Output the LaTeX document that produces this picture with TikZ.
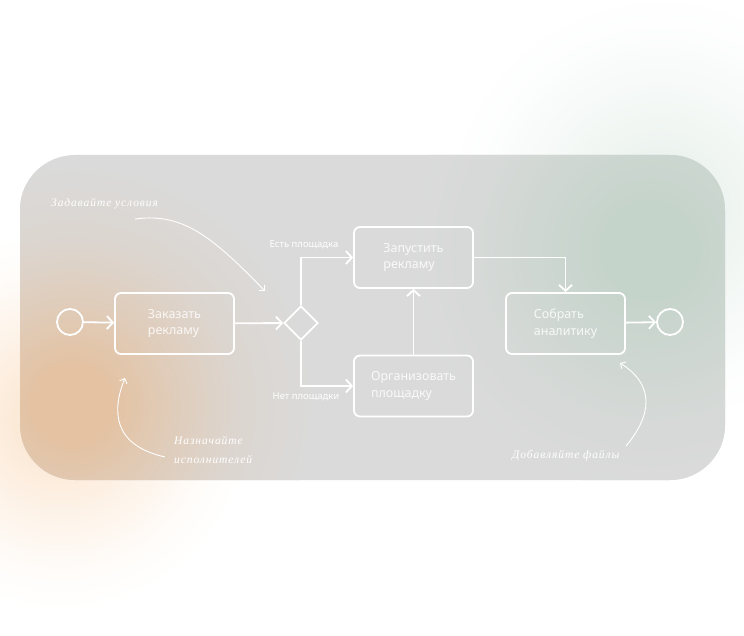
\documentclass[tikz,border=0pt]{standalone}
\usepackage{fontspec}
\setmainfont{Noto Sans}
\newfontfamily\hand[LetterSpace=8]{Liberation Serif}
\usetikzlibrary{shapes.geometric,arrows.meta}
\definecolor{panelgray}{RGB}{218,218,218}
\definecolor{orin}{RGB}{228,194,162}
\definecolor{grin}{RGB}{197,212,203}
\definecolor{orout}{RGB}{252,234,216}
\definecolor{grout}{RGB}{236,243,239}
\pgfdeclareradialshading{blobOin}{\pgfpoint{0bp}{0bp}}{color(0bp)=(orin); color(4bp)=(orin); color(10bp)=(orin!60!panelgray); color(17bp)=(orin!20!panelgray); color(25bp)=(panelgray); color(50bp)=(panelgray)}
\pgfdeclareradialshading{blobGin}{\pgfpoint{0bp}{0bp}}{color(0bp)=(grin); color(5bp)=(grin); color(11bp)=(grin!60!panelgray); color(18bp)=(grin!20!panelgray); color(25bp)=(panelgray); color(50bp)=(panelgray)}
\pgfdeclareradialshading{blobOout}{\pgfpoint{0bp}{0bp}}{color(0bp)=(orout); color(6bp)=(orout); color(13bp)=(orout!55!white); color(20bp)=(orout!15!white); color(25bp)=(white); color(50bp)=(white)}
\pgfdeclareradialshading{blobGout}{\pgfpoint{0bp}{0bp}}{color(0bp)=(grout); color(6bp)=(grout); color(13bp)=(grout!55!white); color(20bp)=(grout!15!white); color(25bp)=(white); color(50bp)=(white)}
\tikzset{
  task/.style={draw=white, line width=1.8pt, rounded corners=6pt, minimum width=119pt, minimum height=61pt, align=left, text=white, text opacity=0.85, font=\fontsize{12.5}{16.5}\selectfont, inner sep=0pt},
  arr/.style={draw=white, line width=1.8pt, -{Straight Barb[length=6pt,width=13pt,line width=1.8pt]}},
  thin arr/.style={draw=white, line width=0.9pt, -{Straight Barb[length=4pt,width=8pt,line width=0.9pt]}},
  evt/.style={circle, draw=white, line width=1.8pt, minimum size=26pt, inner sep=0pt},
  lbl/.style={text=white, font=\fontsize{9.5}{11}\selectfont, inner sep=0pt},
  note/.style={text=white, font=\hand\itshape\fontsize{11.5}{18.5}\selectfont, inner sep=0pt, align=left}
}
\begin{document}
\begin{tikzpicture}[x=1pt,y=-1pt]
\useasboundingbox (0,0) rectangle (744,636);
\clip (0,0) rectangle (744,636);
\fill[white] (0,0) rectangle (744,636);
\shade[shading=blobOout] (60,420) circle (190);
\shade[shading=blobGout] (660,210) circle (220);
\fill[panelgray, rounded corners=55pt] (20,155) rectangle (725,480);
\begin{scope}
\clip[rounded corners=55pt] (20,155) rectangle (725,480);
\shade[shading=blobOin] (72,405) circle (240);
\shade[shading=blobGin] (650,250) circle (240);
\end{scope}

\node[evt] (s) at (70,322) {};
\node[task] (t1) at (174.5,323.5) {Заказать\\рекламу};
\node[diamond, draw=white, line width=1.8pt, minimum width=34pt, minimum height=34pt, inner sep=0pt] (g) at (301,323) {};
\node[task] (t2) at (413.5,257.5) {Запустить\\рекламу};
\node[task] (t3) at (413.5,386) {Организовать\\площадку};
\node[task] (t4) at (565.5,323.5) {Собрать\\аналитику};
\node[evt] (e) at (670,322) {};

\draw[arr] (s) -- (t1);
\draw[arr] (t1) -- (g);
\draw[arr] (g.north) |- (t2.west);
\draw[arr] (g.south) |- (t3.west);
\draw[arr] (t3) -- (t2);
\draw[arr] (t2.east) -| (t4.north);
\draw[arr] (t4) -- (e);

\node[lbl] (l1) at (304,245) {Есть площадка};
\node[lbl] (l2) at (306,397) {Нет площадки};

\node[note, anchor=west] (n1) at (51,204) {Задавайте условия};
\node[note, anchor=west] (n2) at (174,450) {Назначайте\\исполнителей};
\node[note, anchor=west] (n3) at (512,456) {Добавляйте файлы};

\coordinate (c1s) at (135,219);
\coordinate (c1e) at (265,291);
\coordinate (c2s) at (165,457);
\coordinate (c2e) at (125,378);
\coordinate (c3s) at (626,446);
\coordinate (c3e) at (620,363);
\draw[thin arr] (c1s) .. controls (185,212) and (215,240) .. (c1e);
\draw[thin arr] (c2s) .. controls (112,445) and (112,410) .. (c2e);
\draw[thin arr] (c3s) .. controls (652,415) and (655,385) .. (c3e);
\end{tikzpicture}
\end{document}
